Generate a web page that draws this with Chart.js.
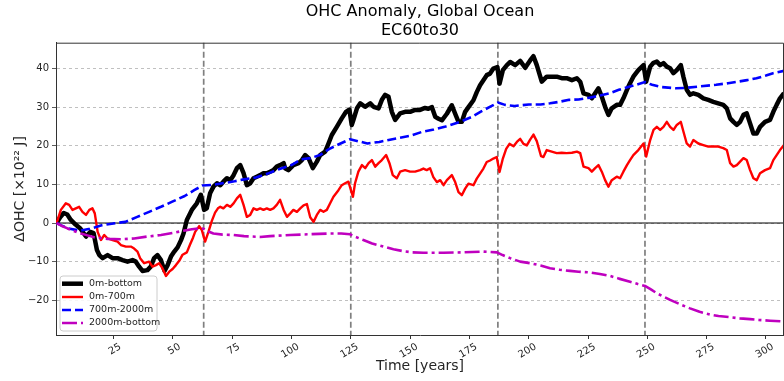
<!DOCTYPE html>
<html>
<head>
<meta charset="utf-8">
<script src="https://cdn.jsdelivr.net/npm/chart.js@4.4.0/dist/chart.umd.min.js"></script>
<style>
  html, body { margin: 0; padding: 0; background: #fff; }
  #wrap { width: 784px; height: 381px; }
</style>
</head>
<body>
<div id="wrap"><canvas id="chart"></canvas></div>
<script>
// values, ΔOHC in 10^22 J against model year
const seriesNames = ['0m-bottom', '0m-700m', '700m-2000m', '2000m-bottom'];

const fullYears = [1, 2.5, 4, 5.5, 7, 9, 11, 13.4, 15.2, 16.6, 18, 19, 20.4, 22.5, 24.6, 26.7, 28.8, 30.9, 33, 34.4,
    35.8, 37.2, 39.3, 40.7, 42.1, 43.5, 45, 46.5, 47.8, 49.2, 50.6, 52, 53.4, 54.5, 55.9, 58, 60.1, 61.8, 63.2, 64.3,
    65.7, 67.1, 68.6, 70, 71.3, 72.8, 74.2, 75.6, 77, 78.4, 79.8, 81.2, 82.6, 84, 85.4, 86.8, 88.2, 89.6, 91, 92.4,
    93.8, 95.2, 96.7, 97.3, 98.7, 100.8, 103, 104.4, 105.8, 107.2, 109, 110.7, 112.1, 114.2, 115.6, 117, 119.1, 121.2, 123, 124.4,
    125.4, 126.1, 127.6, 129, 131, 133.2, 134.6, 136.7, 138.1, 139.5, 140.9, 142.3, 143.7, 145.8, 147.9, 150, 152.1, 154.2, 156.3, 157.7,
    159.2, 160.6, 162, 163.4, 165.5, 167.6, 169, 170.4, 171.8, 173.2, 174.6, 176.7, 178.1, 179.5, 180.9, 182.3, 183.7, 185.1, 186.8, 187.7,
    189.1, 190.8, 192.2, 194.3, 196.4, 198.5, 200.6, 202, 203.4, 205.5, 207.6, 209.7, 211.8, 213.9, 216, 218.2, 220.3, 221.7, 223.1, 225.2,
    226.6, 228, 229.4, 230.8, 232.2, 233.6, 235, 237.1, 238.5, 239.9, 241.4, 242.7, 244.1, 246.2, 248.4, 249.5, 251.2, 252.6, 254, 255.4,
    256.8, 258.2, 259.6, 261, 262.4, 264.1, 265.2, 266.6, 268, 269.4, 271.5, 273.6, 275.7, 277.8, 279.9, 282, 283.5, 284.9, 286.3, 287.7,
    289.1, 290.5, 291.9, 293.3, 294.7, 296.1, 297.5, 299.6, 301.7, 303.1, 304.5, 305.9, 307.6];
const fullOhc = [0, 1.5, 2.6, 2.2, 0.8, -0.4, -1.4, -3.5, -2.3, -2.6, -7, -8.3, -9.1, -8.3, -9.1, -9.1, -9.6, -10, -9.6, -10,
    -11.3, -12.4, -12.2, -11.3, -9.1, -8.3, -9.6, -12.4, -10.9, -8.7, -7.4, -6.3, -4.5, -2.7, 0.8, 3.4, 5.1, 7.3, 3.4, 3.8,
    7.7, 9.4, 10.3, 9.8, 10.7, 11.6, 11.1, 12.4, 14.2, 15, 12.9, 9.8, 10.3, 11.6, 12, 12.4, 12.9, 12.9, 13.3, 13.7,
    14.6, 15, 15.5, 14.2, 13.7, 15, 15.5, 16.3, 17.6, 16.8, 14.2, 15.9, 17.6, 18.5, 20.6, 22.8, 24.9, 27.1, 28.8, 29.4,
    25.4, 26.7, 29.7, 31, 30.1, 31, 30.1, 29.7, 31.9, 33.2, 32.7, 28.8, 26.7, 28.4, 28.8, 28.8, 29.3, 29.3, 29.8, 29.6,
    30, 27.5, 27, 26.6, 28.3, 30.5, 28.3, 26.2, 26.2, 28.8, 30, 31.8, 33.9, 35.7, 37, 38.3, 38.7, 40, 40.4, 36.1,
    39.6, 40.9, 41.7, 40.9, 42, 40.2, 42.1, 43.2, 40.9, 36.6, 37.9, 37.9, 37.9, 37.5, 37.5, 37, 37.5, 36.6, 33.6, 33.2,
    32.3, 33.6, 34.9, 32.7, 30.1, 28, 29.7, 30.6, 30.6, 32.3, 34.5, 36.2, 37.9, 39.6, 40.9, 36.6, 40.5, 41.5, 41.8, 40.9,
    41.4, 40.5, 40.1, 38.8, 39.6, 40.9, 37.9, 34.5, 33.2, 33.6, 33.2, 32.3, 31.9, 31.4, 31, 30.6, 29.7, 27.1, 26.2, 25.4,
    26.2, 28, 28.4, 25.8, 23.2, 23.2, 24.9, 26.2, 26.7, 28.8, 30.6, 32.3, 33.6];

const upperYears = [1, 2.8, 4.9, 6.3, 7.7, 9.1, 10.5, 11.9, 13.4, 14.8, 16.1, 17.1, 18.3, 19.7, 21.1, 22.5, 24.6, 26.7, 28.1, 30.2,
    32.3, 33.7, 35.1, 36.2, 37.9, 40, 41.4, 42.9, 44.2, 45.6, 47.1, 48.5, 49.9, 51.3, 52.7, 54.1, 55.9, 57.3, 58.5, 59.4,
    61.1, 62.2, 63.6, 65, 66.4, 67.8, 69, 70, 71.3, 72.8, 74.2, 75.6, 77, 78.4, 79.8, 81.2, 82.6, 84, 85.4, 86.8,
    88.2, 89.6, 91, 92.4, 93.8, 95.2, 96.7, 98.1, 99.5, 100.8, 102.3, 103.7, 105.1, 106.5, 107.9, 109.3, 110.7, 112.1, 113.5, 114.9,
    116.3, 117.7, 119.8, 121.2, 122.6, 124, 125.9, 126.8, 128.2, 129.7, 131.1, 132.5, 133.9, 135.3, 136.7, 138.1, 139.9, 141.3, 142.7, 144.4,
    145.8, 147.9, 150, 152.1, 154.2, 155.6, 157, 158.4, 159.8, 161.3, 162.7, 164.1, 165.5, 167.6, 169, 170.4, 171.8, 173.2, 174.6, 176.7,
    178.1, 179.5, 180.9, 182.3, 183.7, 185.1, 186.5, 187.7, 189.1, 190.5, 191.9, 193.6, 195, 196.4, 197.8, 199.2, 200.6, 202, 203.4, 205.2,
    206.2, 207.6, 209.7, 211.8, 213.9, 216, 218.2, 220.3, 221.7, 223.1, 225.2, 226.6, 228, 229.4, 230.8, 232.2, 233.6, 235, 237.1, 238.5,
    239.9, 241.4, 242.7, 244.1, 246.2, 248.4, 249.5, 251.2, 252.6, 254, 255.4, 256.8, 258.2, 259.6, 261, 262.4, 264.1, 265.2, 266.6, 268,
    269.4, 271.5, 273.6, 275.7, 277.8, 279.9, 282, 283.5, 284.9, 286.3, 287.7, 289.1, 290.5, 291.9, 293.3, 294.7, 296.1, 297.5, 299.6, 301.7,
    303.1, 304.5, 305.9, 307.6];
const upperOhc = [0, 3.4, 5.1, 4.7, 3.4, 3.8, 4.2, 2.9, 2.1, 3.4, 3.8, 2.5, -2.3, -4.4, -3.1, -4, -4.4, -4.8, -5.7, -6.1,
    -6.1, -6.6, -7.4, -9.1, -10.4, -10, -11.3, -10.9, -10.4, -11.7, -13.7, -12.6, -11.9, -10.9, -9.8, -8.2, -7.6, -5.5, -3.8, -2.3,
    -0.8, -1.8, -4.8, -2.3, 0.5, 2.7, 3.8, 4.2, 3.8, 4.7, 4.2, 5.1, 6.4, 7.3, 4.7, 1.6, 2.1, 3.8, 3.4, 3.8,
    3.4, 3.8, 3.4, 3.8, 4.7, 6, 3.4, 1.6, 2.5, 3.4, 2.9, 3.8, 4.6, 4.9, 1.5, 0.3, 2.1, 3.4, 2.9, 3.4,
    5.1, 6.8, 8.5, 9.8, 10.3, 10.7, 6.8, 10.3, 13.3, 15, 14.2, 15.5, 16.3, 14.6, 15.5, 16.3, 17.6, 15.5, 12.4, 11.6,
    13.3, 13.7, 13.3, 13.3, 13.7, 14.1, 13.7, 14.2, 11.9, 10.6, 11.1, 9.8, 11.1, 12.4, 10.6, 8, 7.2, 8.9, 10.2, 9.8,
    11.5, 12.8, 14.1, 15.8, 16.2, 16.7, 17.1, 13.2, 16.7, 19.2, 20.5, 19.9, 21, 21.8, 20.5, 20.1, 21.6, 22.9, 21.2, 17.3,
    17.1, 18.9, 18.5, 18.1, 18.2, 18.1, 18.2, 18.5, 18.1, 14.6, 14.2, 13.3, 14.2, 15, 13.3, 11.1, 9.4, 11.1, 12, 11.6,
    13.3, 15, 16.3, 17.6, 18.9, 20.6, 17.2, 21.5, 24.1, 24.9, 24.1, 24.9, 26.2, 24.9, 24.1, 25.4, 26.2, 23.7, 20.6, 19.8,
    21.5, 20.6, 20.2, 19.8, 19.8, 19.8, 19.4, 18.9, 15.5, 14.6, 15, 15.9, 16.8, 16.3, 13.7, 11.6, 11.1, 12.9, 13.7, 14.2,
    16.3, 17.6, 18.9, 20.2];

const midYears = [1, 3, 6, 11, 15, 20, 25, 30, 35, 40, 45, 50, 55, 59, 62.5, 67, 72, 76, 80, 85,
    90, 95, 100, 104, 108, 112, 116, 120, 124.7, 128, 132, 137, 141, 145, 150, 155, 160, 165, 171, 176,
    180, 184, 187, 190, 194, 200, 205, 209, 213, 217, 221, 225, 230, 234, 238, 243, 249, 252, 256, 262,
    266, 271, 279, 284, 288, 292, 296, 300, 303, 307.6];
const midOhc = [0, -0.6, -1.4, -2, -1.5, -0.6, -0.1, 0.3, 1.6, 2.9, 4.2, 5.6, 7, 8.5, 9.7, 9.9, 10.4, 10.8, 11.3, 11.8,
    12.8, 14, 15, 16.5, 16.8, 17.6, 19.2, 20.4, 21.7, 21.2, 20.6, 21, 21.5, 22, 22.6, 23.6, 24.2, 25, 26.2, 27.5,
    28.9, 30.2, 31.2, 30.6, 30.3, 30.7, 30.7, 31, 31.4, 31.9, 32, 32.4, 33, 33.6, 34.5, 35.4, 36.5, 35.8, 35.2, 34.9,
    35, 35.3, 35.8, 36.2, 36.6, 37, 37.5, 38.2, 38.8, 39.4];

const deepYears = [1, 3, 5.6, 8, 11.3, 14, 16.9, 22.5, 28.1, 33.7, 39.3, 45, 50.6, 54.5, 58, 61.5, 63, 65, 67.1, 71,
    75.6, 80, 86.8, 91, 99.5, 107.9, 116.3, 121, 124.7, 127, 130.3, 134, 138.8, 143, 147.2, 151, 155.6, 164.1, 172.5, 180.9,
    186.6, 189, 192.2, 196.4, 200.6, 205, 209, 213, 217.4, 221, 225.8, 230, 234.3, 238, 242.7, 246, 249, 251.5, 254, 257,
    259.6, 264, 268, 272, 276.4, 280, 284.9, 289, 293.3, 297, 301.7, 307.6];
const deepOhc = [0, -0.7, -1.4, -2, -2.7, -3.2, -3.7, -4.1, -4.2, -4, -3.5, -3.1, -2.5, -2, -1.6, -1.4, -1.5, -2.2, -2.7, -3,
    -3.1, -3.4, -3.6, -3.4, -3.1, -2.9, -2.7, -2.7, -2.9, -3.6, -4.4, -5.3, -6.1, -6.8, -7.3, -7.6, -7.7, -7.7, -7.6, -7.4,
    -7.6, -8.3, -9.1, -10, -10.4, -11, -11.7, -12.1, -12.4, -12.6, -12.8, -13.2, -13.7, -14.4, -15.2, -15.8, -16.3, -17.2, -18.2, -19.1,
    -19.9, -21.1, -22.1, -23, -23.7, -24.1, -24.4, -24.7, -24.9, -25.1, -25.3, -25.5];

// forcing cycle boundaries (dashed vertical lines)
const cycleYears = [63, 125, 187, 249];
const xTickValues = [25, 50, 75, 100, 125, 150, 175, 200, 225, 250, 275, 300];
const yTickValues = [-20, -10, 0, 10, 20, 30, 40];

const styles = [
    {color: '#000000', width: 4.5, dash: []},
    {color: '#ff0000', width: 2.4, dash: []},
    {color: '#0000ff', width: 2.6, dash: [9, 4]},
    {color: '#bf00bf', width: 2.6, dash: [15, 4, 3, 4]}
];

function pts(xs, ys) {
    return xs.map((x, i) => ({x: x, y: ys[i]}));
}

Chart.defaults.font.family = "'DejaVu Sans', sans-serif";
Chart.defaults.color = '#262626';

const extras = {
    id: 'extras',
    beforeDatasetsDraw(chart) {
        const {ctx, chartArea: a, scales: {x, y}} = chart;
        ctx.save();
        // zero line
        const y0 = y.getPixelForValue(0);
        ctx.strokeStyle = '#000';
        ctx.lineWidth = 1;
        ctx.beginPath();
        ctx.moveTo(a.left, y0);
        ctx.lineTo(a.right, y0);
        ctx.stroke();
        // cycle lines
        ctx.strokeStyle = '#7f7f7f';
        ctx.lineWidth = 1.7;
        ctx.setLineDash([6, 3]);
        cycleYears.forEach(t => {
            const px = x.getPixelForValue(t);
            ctx.beginPath();
            ctx.moveTo(px, a.top);
            ctx.lineTo(px, a.bottom);
            ctx.stroke();
        });
        ctx.restore();
    },
    afterDraw(chart) {
        const {ctx, chartArea: a} = chart;
        ctx.save();
        // top and right spines
        ctx.strokeStyle = '#333';
        ctx.lineWidth = 1;
        ctx.beginPath();
        ctx.moveTo(a.left, a.top + 0.5);
        ctx.lineTo(a.right - 0.5, a.top + 0.5);
        ctx.lineTo(a.right - 0.5, a.bottom);
        ctx.stroke();

        // legend box, lower left
        const bx = a.left + 4, by = 276, bw = 97, bh = 55, r = 3;
        ctx.fillStyle = 'rgba(255,255,255,0.85)';
        ctx.strokeStyle = '#cccccc';
        ctx.lineWidth = 1;
        ctx.beginPath();
        ctx.moveTo(bx + r, by);
        ctx.lineTo(bx + bw - r, by);
        ctx.quadraticCurveTo(bx + bw, by, bx + bw, by + r);
        ctx.lineTo(bx + bw, by + bh - r);
        ctx.quadraticCurveTo(bx + bw, by + bh, bx + bw - r, by + bh);
        ctx.lineTo(bx + r, by + bh);
        ctx.quadraticCurveTo(bx, by + bh, bx, by + bh - r);
        ctx.lineTo(bx, by + r);
        ctx.quadraticCurveTo(bx, by, bx + r, by);
        ctx.closePath();
        ctx.fill();
        ctx.stroke();

        ctx.font = "9.5px 'DejaVu Sans'";
        ctx.textBaseline = 'middle';
        ctx.textAlign = 'left';
        const rows = [283.7, 297, 310, 323];
        seriesNames.forEach((name, i) => {
            const s = styles[i];
            ctx.strokeStyle = s.color;
            ctx.lineWidth = s.width;
            ctx.setLineDash(s.dash);
            ctx.beginPath();
            ctx.moveTo(bx + 2, rows[i]);
            ctx.lineTo(bx + 23, rows[i]);
            ctx.stroke();
            ctx.setLineDash([]);
            ctx.fillStyle = '#262626';
            ctx.fillText(name, bx + 29, rows[i]);
        });
        ctx.restore();
    }
};

const seriesData = [
    pts(fullYears, fullOhc),
    pts(upperYears, upperOhc),
    pts(midYears, midOhc),
    pts(deepYears, deepOhc)
];

new Chart(document.getElementById('chart'), {
    type: 'line',
    data: {
        datasets: seriesNames.map((name, i) => ({
            label: name,
            data: seriesData[i],
            borderColor: styles[i].color,
            borderWidth: styles[i].width,
            borderDash: styles[i].dash,
            borderJoinStyle: 'round',
            pointRadius: 0,
            tension: 0,
            fill: false,
            order: 4 - i
        }))
    },
    options: {
        responsive: true,
        maintainAspectRatio: false,
        animation: false,
        devicePixelRatio: 1,
        layout: {padding: 0},
        plugins: {
            legend: {display: false},
            tooltip: {enabled: false},
            title: {
                display: true,
                fullSize: false,
                text: ['OHC Anomaly, Global Ocean', 'EC60to30'],
                color: '#000',
                font: {size: 16, weight: 'normal', lineHeight: 1.2},
                padding: {top: 2.4, bottom: 1.9}
            }
        },
        scales: {
            x: {
                type: 'linear',
                min: 0.75,
                max: 307.6,
                afterBuildTicks: s => { s.ticks = xTickValues.map(v => ({value: v})); },
                afterFit: s => { s.height = 46; s.paddingLeft = 0; s.paddingRight = 0; },
                ticks: {
                    autoSkip: false,
                    minRotation: 30,
                    maxRotation: 30,
                    labelOffset: 7,
                    padding: 2,
                    font: {size: 10},
                    color: '#262626'
                },
                grid: {drawOnChartArea: false, drawTicks: true, tickLength: 4, tickColor: '#333'},
                border: {color: '#333', width: 1},
                title: {
                    display: true,
                    text: 'Time [years]',
                    color: '#262626',
                    font: {size: 14},
                    padding: {top: 0, bottom: 5.9}
                }
            },
            y: {
                min: -29,
                max: 46.7,
                afterBuildTicks: s => { s.ticks = yTickValues.map(v => ({value: v})); },
                afterFit: s => { s.width = 56; s.paddingTop = 0; s.paddingBottom = 0; },
                ticks: {
                    padding: 3,
                    font: {size: 10},
                    color: '#262626',
                    callback: v => String(v).replace('-', '\u2212')
                },
                grid: {color: '#b0b0b0', lineWidth: 0.8, tickLength: 4, tickColor: '#333'},
                border: {color: '#333', width: 1, dash: [3, 3]},
                title: {
                    display: true,
                    text: 'ΔOHC [×10²² J]',
                    color: '#262626',
                    font: {size: 14},
                    padding: {top: 11.6, bottom: 0}
                }
            }
        }
    },
    plugins: [extras]
});
</script>
</body>
</html>
